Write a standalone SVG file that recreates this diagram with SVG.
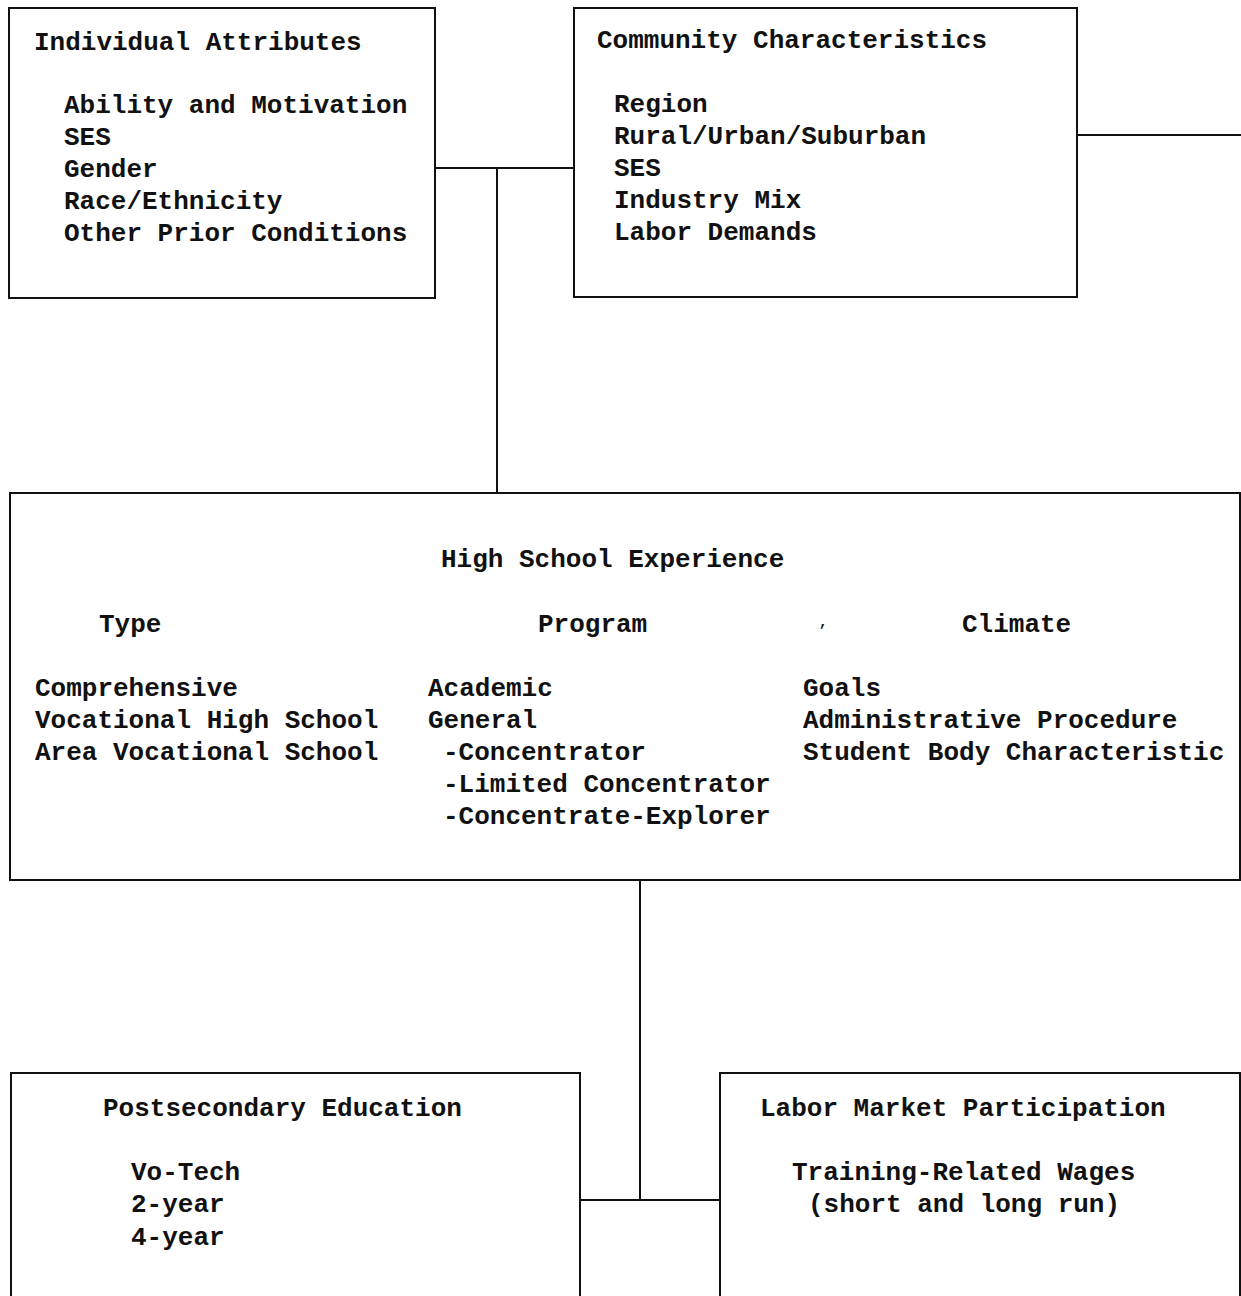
<svg xmlns="http://www.w3.org/2000/svg" width="1241" height="1296" viewBox="0 0 1241 1296">
<style>
.box{fill:#fff;stroke:#111;stroke-width:2}
.ln{fill:none;stroke:#111;stroke-width:2}
text{font-family:"Liberation Mono","DejaVu Sans Mono",monospace;font-size:26px;font-weight:bold;fill:#111}
</style>
<rect width="1241" height="1296" fill="#fff"/>
<g id="connectors">
<path class="ln" d="M435 168 H574"/>
<path class="ln" d="M497 168 V493"/>
<path class="ln" d="M1077 135 H1241"/>
<path class="ln" d="M640 880 V1200"/>
<path class="ln" d="M580 1200 H720"/>
</g>
<g id="individual">
<rect class="box" x="9" y="8" width="426" height="290"/>
<text x="34" y="50">Individual Attributes</text>
<text x="64" y="113">Ability and Motivation</text>
<text x="64" y="145">SES</text>
<text x="64" y="177">Gender</text>
<text x="64" y="209">Race/Ethnicity</text>
<text x="64" y="241">Other Prior Conditions</text>
</g>
<g id="community">
<rect class="box" x="574" y="8" width="503" height="289"/>
<text x="597" y="48">Community Characteristics</text>
<text x="614" y="112">Region</text>
<text x="614" y="144">Rural/Urban/Suburban</text>
<text x="614" y="176">SES</text>
<text x="614" y="208">Industry Mix</text>
<text x="614" y="240">Labor Demands</text>
</g>
<g id="highschool">
<rect class="box" x="10" y="493" width="1230" height="387"/>
<text x="441" y="567">High School Experience</text>
<text x="99" y="632">Type</text>
<text x="538" y="632">Program</text>
<text x="819" y="626" style="font-size:14px">,</text>
<text x="962" y="632">Climate</text>
<text x="35" y="696">Comprehensive</text>
<text x="35" y="728">Vocational High School</text>
<text x="35" y="760">Area Vocational School</text>
<text x="428" y="696">Academic</text>
<text x="428" y="728">General</text>
<text x="443" y="760">-Concentrator</text>
<text x="443" y="792">-Limited Concentrator</text>
<text x="443" y="824">-Concentrate-Explorer</text>
<text x="803" y="696">Goals</text>
<text x="803" y="728">Administrative Procedure</text>
<text x="803" y="760">Student Body Characteristic</text>
</g>
<g id="postsecondary">
<rect class="box" x="11" y="1073" width="569" height="240"/>
<text x="103" y="1116">Postsecondary Education</text>
<text x="131" y="1180">Vo-Tech</text>
<text x="131" y="1212">2-year</text>
<text x="131" y="1245">4-year</text>
</g>
<g id="labor">
<rect class="box" x="720" y="1073" width="520" height="240"/>
<text x="760" y="1116">Labor Market Participation</text>
<text x="792" y="1180">Training-Related Wages</text>
<text x="808" y="1212">(short and long run)</text>
</g>
</svg>
